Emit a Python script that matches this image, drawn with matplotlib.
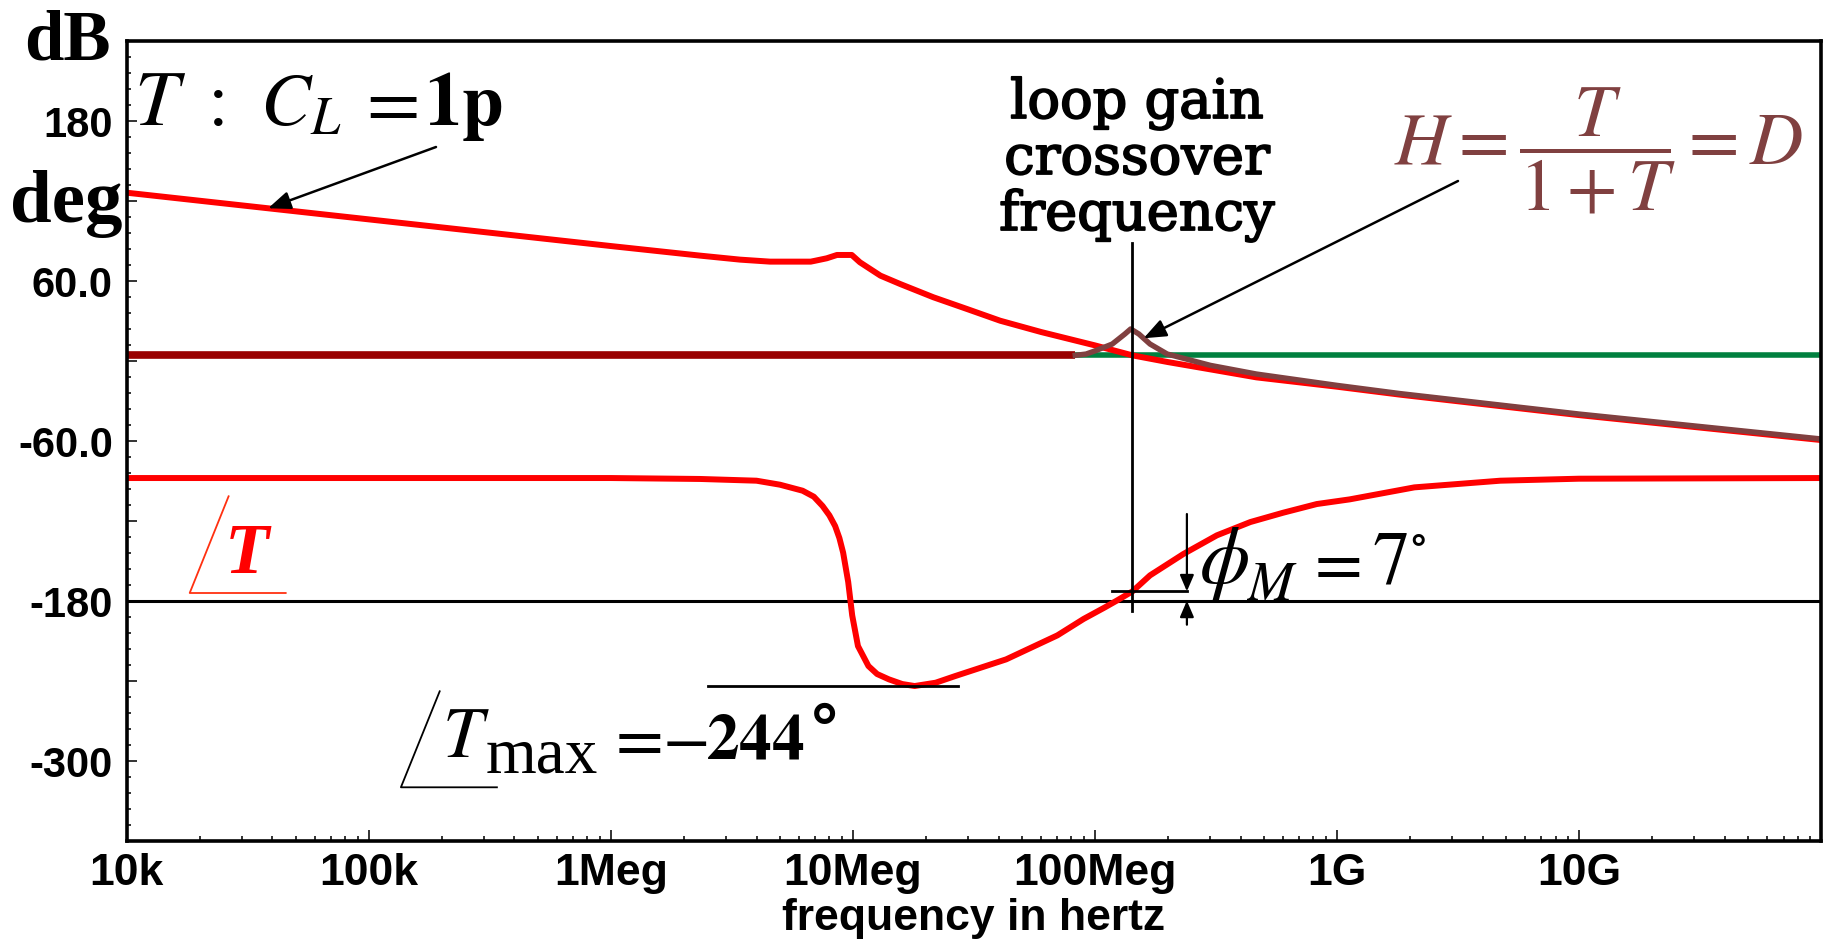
import matplotlib
matplotlib.use('Agg')
import matplotlib.pyplot as plt
import matplotlib.patheffects as pe
from matplotlib.lines import Line2D
from matplotlib.ticker import FixedLocator, MultipleLocator, LogLocator, NullFormatter
import numpy as np

####################################################################################################
# data: loop gain T (magnitude in dB, phase in deg) and closed loop gain H, vs frequency in Hz
####################################################################################################
freq_T = [1e4, 1e5, 1e6, 2.34e6, 3.42e6, 4.55e6, 6.7e6, 7.0e6, 7.8e6, 8.6e6, 9.9e6, 10.7e6,
          13.0e6, 15.7e6, 21.5e6, 29.6e6, 40.6e6, 60e6, 100e6, 143e6, 200e6, 300e6, 465e6,
          1e9, 1.83e9, 1e10, 1e11]
mag_T = [126, 106, 86, 78.8, 75.8, 74.3, 74.3, 75, 76.8, 79.3, 79.3, 73.8,
         63.8, 57.5, 47.6, 38.8, 30, 21.5, 11.5, 4, -1, -6.5, -12.5,
         -19.5, -25.5, -40.8, -59.5]

freq_phase = [1e4, 1e6, 2.34e6, 4.0e6, 5.0e6, 6.2e6, 6.9e6, 7.5e6, 8.0e6, 8.45e6, 8.8e6, 9.12e6,
              9.57e6, 9.94e6, 10.5e6, 11.6e6, 12.6e6, 14.1e6, 16e6, 18e6, 22e6, 26.5e6, 43e6,
              70e6, 89.8e6, 110e6, 123e6, 143e6, 169e6, 232e6, 319e6, 439e6, 600e6, 826e6,
              1.13e9, 2.09e9, 4.73e9, 1e10, 1e11]
phase_T = [-88, -88, -88.7, -90, -93, -97.5, -102, -109, -116, -124, -133, -144,
           -166, -191, -214, -229, -235, -239, -242.5, -244, -241.5, -236.5, -224,
           -206, -193.7, -185, -180, -173, -161, -145, -131, -121, -114, -107.5,
           -104, -95, -90, -88.5, -88]

freq_H = [1e4, 83e6, 92e6, 100.6e6, 118e6, 133e6, 140.6e6, 152e6, 169e6, 199e6, 300e6, 465e6,
          1e9, 1.83e9, 1e10, 1e11]
mag_H = [4, 4, 5, 7.5, 12.5, 20, 23.8, 20, 12.5, 5, -3.5, -10,
         -18.5, -24.7, -40, -58.7]

f_cross = 143e6        # loop gain crossover frequency
phase_margin = 7       # deg
phase_min = -244       # deg, lowest phase of T
f_min_line = [2.52e6, 27.2e6]

tick_freqs = [1e4, 1e5, 1e6, 1e7, 1e8, 1e9, 1e10]
tick_freq_labels = ['10k', '100k', '1Meg', '10Meg', '100Meg', '1G', '10G']
tick_deg = [-300, -240, -180, -120, -60, 0, 60, 120, 180]
tick_deg_labels = ['-300', '', '-180', '', '-60.0', '', '60.0', '', '180']

####################################################################################################
# figure setup
####################################################################################################
W, HP = 1831, 953
plt.rcParams['font.family'] = ['Liberation Sans', 'DejaVu Sans']
plt.rcParams['mathtext.fontset'] = 'stix'

fig = plt.figure(figsize=(W / 100, HP / 100), dpi=100)
ax = fig.add_axes([126.7 / W, 1 - 841.7 / HP, (1821 - 126.7) / W, 800 / HP])


def px(x, y):  # pixel position (from top left) -> figure fraction
    return x / W, 1 - y / HP


def fline(xs, ys, **kw):  # free line in pixel positions
    fig.add_artist(Line2D([x / W for x in xs], [1 - y / HP for y in ys],
                          transform=fig.transFigure, **kw))


def ftext(x, y, s, **kw):  # text at pixel position, left / baseline aligned by default
    kw.setdefault('ha', 'left')
    kw.setdefault('va', 'baseline')
    return fig.text(*px(x, y), s, **kw)


red = '#ff0000'
dark_red = '#990000'
brown = '#804040'
green = '#00803f'

####################################################################################################
# curves
####################################################################################################
h_low = mag_H[0]
ax.plot(freq_H[:2], mag_H[:2], color=dark_red, lw=5.5, solid_capstyle='butt', zorder=3)
ax.plot([freq_H[1], 1e11], [h_low, h_low], color=green, lw=4.0, solid_capstyle='butt', zorder=3)
ax.axhline(-180, color='black', lw=2.2, zorder=2)
ax.plot(freq_phase, phase_T, color=red, lw=4.3, zorder=4)
ax.plot(freq_T, mag_T, color=red, lw=4.3, zorder=4)
ax.plot(freq_H[1:], mag_H[1:], color=brown, lw=3.9, zorder=5)

# crossover and phase margin markers
ax.plot([f_cross, f_cross], [88, -188], color='black', lw=2.0, zorder=6)
pm_level = -180 + phase_margin
f_arrow = 240e6
ax.plot([117.5e6, f_arrow], [pm_level, pm_level], color='black', lw=2.0, zorder=6)
arr = dict(arrowstyle='-|>,head_length=0.7,head_width=0.3', color='black', lw=1.6,
           shrinkA=0, shrinkB=0, mutation_scale=14)
ax.annotate('', xy=(f_arrow, pm_level), xytext=(f_arrow, -115), arrowprops=arr, zorder=6)
ax.annotate('', xy=(f_arrow, -180), xytext=(f_arrow, -198), arrowprops=arr, zorder=6)
ax.plot(f_min_line, [phase_min, phase_min], color='black', lw=2.0, zorder=6)

# pointer arrows to T and H
lf_T = np.log10(freq_T)
lf_H = np.log10(freq_H)
f_pt1 = 38.4e3
f_pt2 = 159e6
arr2 = dict(arrowstyle='-|>,head_length=0.8,head_width=0.32', color='black', lw=1.8,
            shrinkA=0, shrinkB=0, mutation_scale=17)
ax.annotate('', xy=(f_pt1, np.interp(np.log10(f_pt1), lf_T, mag_T)),
            xytext=px(436, 148), textcoords='figure fraction', arrowprops=arr2, zorder=7)
ax.annotate('', xy=(f_pt2, np.interp(np.log10(f_pt2), lf_H, mag_H)),
            xytext=px(1458, 182), textcoords='figure fraction', arrowprops=arr2, zorder=7)

####################################################################################################
# axes
####################################################################################################
ax.set_xscale('log')
ax.set_xlim(1e4, 1e11)
ax.set_ylim(-360, 240)
ax.xaxis.set_major_locator(FixedLocator(tick_freqs))
ax.set_xticklabels(tick_freq_labels)
ax.xaxis.set_minor_locator(LogLocator(base=10, subs=np.arange(2, 10), numticks=20))
ax.xaxis.set_minor_formatter(NullFormatter())
ax.set_yticks(tick_deg)
ax.set_yticklabels(tick_deg_labels)
ax.yaxis.set_minor_locator(MultipleLocator(12))

ax.tick_params(which='both', direction='in', top=False, right=False, color='#333333', width=1.4)
ax.tick_params(axis='x', which='major', length=8, pad=8, labelsize=32)
ax.tick_params(axis='x', which='minor', length=3.3)
ax.tick_params(axis='y', which='major', length=7, pad=10, labelsize=30)
ax.tick_params(axis='y', which='minor', length=3.1)
for lbl in ax.get_xticklabels() + ax.get_yticklabels():
    lbl.set_fontweight('bold')
for s in ax.spines.values():
    s.set_linewidth(2.6)
    s.set_zorder(10)

fig.text(*px(974, 930), 'frequency in hertz', ha='center', va='baseline',
         fontsize=32, fontweight='bold')

####################################################################################################
# labels and annotations
####################################################################################################
serif = ['Liberation Serif', 'DejaVu Serif']
ftext(67.7, 60, 'dB', ha='center', fontsize=51, fontweight='bold', family=serif)
ftext(66.6, 222, 'deg', ha='center', fontsize=54, fontweight='bold', family=serif)

# T : C_L = 1p
ftext(134, 125, r'$T$', fontsize=57)
ftext(197, 125, r'$:$', fontsize=54)
ftext(260, 125, r'$C_L$', fontsize=54)
ftext(355, 125, r'$=$', fontsize=56)
ftext(424, 125, r'$\mathbf{1p}$', fontsize=54)

bold_stroke = [pe.withStroke(linewidth=1.3, foreground='black')]
for txt, yb in [('loop gain', 119), ('crossover', 175), ('frequency', 231)]:
    ftext(1137, yb, txt, ha='center', fontsize=39, family=['DejaVu Serif'],
          path_effects=bold_stroke)

ftext(1394, 151, r'$H=\dfrac{T}{1+T}=D$', va='center', fontsize=53, color=brown)

# angle of T
fline([228.6, 189.7, 285.7], [497.3, 594, 594], color='#ff3010', lw=1.3)
ftext(225, 573, 'T', fontsize=52, color=red, fontweight='bold', style='italic', family=serif)

# lowest phase of T
fline([439.7, 400.9, 496.9], [692.3, 788.3, 788.3], color='black', lw=1.3)
ftext(442, 757, r'$T$', fontsize=52)
ftext(486, 773, 'max', fontsize=47, family=serif)
ftext(605, 759, r'$=$', fontsize=50)
ftext(662, 759, r'$-$', fontsize=50)
ftext(706, 759, r'$\mathbf{%d}$' % abs(phase_min), fontsize=47)
ftext(810, 711, r'$\circ$', va='center', fontsize=56)

# phase margin
ftext(1199, 583, r'$\phi$', fontsize=58)
ftext(1246, 600, r'$M$', fontsize=40)
ftext(1304, 583, r'$=$', fontsize=50)
ftext(1372, 583, r'$%d$' % phase_margin, fontsize=54)
ftext(1410, 538, r'$\circ$', va='center', fontsize=32)

fig.savefig('out.png', dpi=100)
